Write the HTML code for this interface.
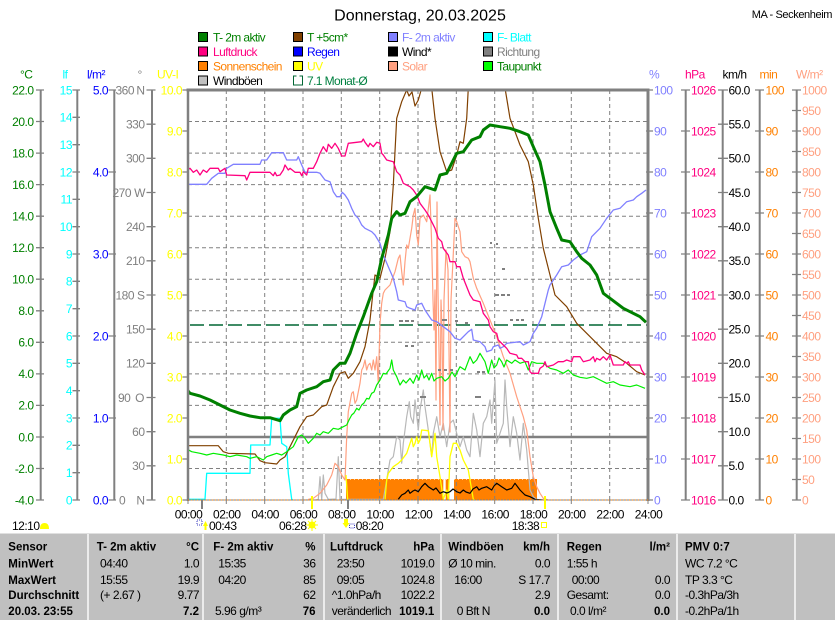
<!DOCTYPE html>
<html><head><meta charset="utf-8"><style>
html,body{margin:0;padding:0;background:#fff;}
svg{display:block;font-family:"Liberation Sans",Arial,sans-serif;}
.a{font-size:12px;letter-spacing:-0.5px;}
.lg{font-size:12px;letter-spacing:-0.6px;}
.b{font-size:11.5px;font-weight:bold;}
.n{font-size:12px;letter-spacing:-0.5px;}
</style></head><body>
<svg width="835" height="620" viewBox="0 0 835 620" xmlns="http://www.w3.org/2000/svg">
<rect width="835" height="620" fill="#fff"/>
<defs><clipPath id="pc"><rect x="188" y="90" width="460" height="410"/></clipPath></defs>

<!-- title -->
<text x="420" y="20.7" font-size="16" text-anchor="middle" fill="#000">Donnerstag, 20.03.2025</text>
<text x="832" y="18" font-size="11" letter-spacing="-0.4" text-anchor="end" fill="#000">MA - Seckenheim</text>

<!-- legend -->
<g stroke="#000" stroke-width="1">
<rect x="198.5" y="32.5" width="9" height="9" fill="#008000"/>
<rect x="293.5" y="32.5" width="9" height="9" fill="#804000"/>
<rect x="388.5" y="32.5" width="9" height="9" fill="#8080ff"/>
<rect x="483.5" y="32.5" width="9" height="9" fill="#00ffff"/>
<rect x="198.5" y="47" width="9" height="9" fill="#ff0080"/>
<rect x="293.5" y="47" width="9" height="9" fill="#0000ff"/>
<rect x="388.5" y="47" width="9" height="9" fill="#000000"/>
<rect x="483.5" y="47" width="9" height="9" fill="#808080"/>
<rect x="198.5" y="61.5" width="9" height="9" fill="#ff8000"/>
<rect x="293.5" y="61.5" width="9" height="9" fill="#ffff00"/>
<rect x="388.5" y="61.5" width="9" height="9" fill="#ffa080"/>
<rect x="483.5" y="61.5" width="9" height="9" fill="#00ff00"/>
<rect x="198.5" y="76" width="9" height="9" fill="#c0c0c0"/>
</g>
<path d="M296.5,76 h-3 v9 h9 v-9 h-3" fill="none" stroke="#006633" stroke-width="1"/>
<g class="lg">
<text x="213" y="41.3" fill="#008000">T- 2m aktiv</text>
<text x="307" y="41.3" fill="#008000">T +5cm*</text>
<text x="402" y="41.3" fill="#8080ff">F- 2m aktiv</text>
<text x="497" y="41.3" fill="#00ffff">F- Blatt</text>
<text x="213" y="55.8" fill="#ff0080">Luftdruck</text>
<text x="307" y="55.8" fill="#0000ff">Regen</text>
<text x="402" y="55.8" fill="#000">Wind*</text>
<text x="497" y="55.8" fill="#808080">Richtung</text>
<text x="213" y="70.3" fill="#ff8000">Sonnenschein</text>
<text x="307" y="70.3" fill="#ffff00">UV</text>
<text x="402" y="70.3" fill="#ffa080">Solar</text>
<text x="497" y="70.3" fill="#008000">Taupunkt</text>
<text x="213" y="84.8" fill="#000">Windböen</text>
<text x="307" y="84.8" fill="#008040">7.1 Monat-Ø</text>
</g>

<!-- axis headings -->
<g class="a">
<text x="20" y="78.5" fill="#008000">°C</text>
<text x="62.5" y="78.5" fill="#00ffff">lf</text>
<text x="87" y="78.5" fill="#0000ff">l/m²</text>
<text x="137.5" y="78.5" fill="#808080">°</text>
<text x="157" y="78.5" fill="#ffff00">UV-I</text>
<text x="649" y="78.5" fill="#8080ff">%</text>
<text x="685" y="78.5" fill="#ff0080">hPa</text>
<text x="722.5" y="78.5" fill="#000">km/h</text>
<text x="759.5" y="78.5" fill="#ff8000">min</text>
<text x="796" y="78.5" fill="#ffa080">W/m²</text>
</g>

<!-- axis lines -->
<g stroke="#808080" stroke-width="2" fill="none">
<path d="M40.7,90V500 M77.3,90V500 M114.3,90V500 M152,90V500 M685.7,90V500 M722.7,90V500 M759.7,90V500 M796.7,90V500"/>
<path stroke-width="1.3" d="M36,90h8M36,121.5h8M36,153.1h8M36,184.6h8M36,216.2h8M36,247.7h8M36,279.2h8M36,310.8h8M36,342.3h8M36,373.9h8M36,405.4h8M36,437h8M36,468.5h8M36,500h8
M72.5,90h7.5M72.5,117.3h7.5M72.5,144.7h7.5M72.5,172h7.5M72.5,199.3h7.5M72.5,226.7h7.5M72.5,254h7.5M72.5,281.3h7.5M72.5,308.7h7.5M72.5,336h7.5M72.5,363.3h7.5M72.5,390.7h7.5M72.5,418h7.5M72.5,445.3h7.5M72.5,472.7h7.5M72.5,500h7.5
M108.5,90h7.5M108.5,172h7.5M108.5,254h7.5M108.5,336h7.5M108.5,418h7.5M108.5,500h7.5
M146.5,90h9M146.5,124.2h9M146.5,158.3h9M146.5,192.5h9M146.5,226.7h9M146.5,260.8h9M146.5,295h9M146.5,329.2h9M146.5,363.3h9M146.5,397.5h9M146.5,431.7h9M146.5,465.8h9M146.5,500h9
M182.5,90h6M182.5,131h6M182.5,172h6M182.5,213h6M182.5,254h6M182.5,295h6M182.5,336h6M182.5,377h6M182.5,418h6M182.5,459h6M182.5,500h6
M646,90h7M646,131h7M646,172h7M646,213h7M646,254h7M646,295h7M646,336h7M646,377h7M646,418h7M646,459h7M646,500h7
M681,90h9M681,131h9M681,172h9M681,213h9M681,254h9M681,295h9M681,336h9M681,377h9M681,418h9M681,459h9M681,500h9
M718,90h10M718,124.2h10M718,158.3h10M718,192.5h10M718,226.7h10M718,260.8h10M718,295h10M718,329.2h10M718,363.3h10M718,397.5h10M718,431.7h10M718,465.8h10M718,500h10
M755,90h9M755,131h9M755,172h9M755,213h9M755,254h9M755,295h9M755,336h9M755,377h9M755,418h9M755,459h9M755,500h9
M792,90h9M792,110.5h9M792,131h9M792,151.5h9M792,172h9M792,192.5h9M792,213h9M792,233.5h9M792,254h9M792,274.5h9M792,295h9M792,315.5h9M792,336h9M792,356.5h9M792,377h9M792,397.5h9M792,418h9M792,438.5h9M792,459h9M792,479.5h9M792,500h9"/>
</g>

<!-- left labels -->
<g class="a" text-anchor="end" fill="#008000">
<text x="33.5" y="94.3">22.0</text><text x="33.5" y="125.8">20.0</text><text x="33.5" y="157.4">18.0</text><text x="33.5" y="188.9">16.0</text><text x="33.5" y="220.5">14.0</text><text x="33.5" y="252">12.0</text><text x="33.5" y="283.5">10.0</text><text x="33.5" y="315.1">8.0</text><text x="33.5" y="346.6">6.0</text><text x="33.5" y="378.2">4.0</text><text x="33.5" y="409.7">2.0</text><text x="33.5" y="441.3">0.0</text><text x="33.5" y="472.8">-2.0</text><text x="33.5" y="504.3">-4.0</text>
</g>
<g class="a" text-anchor="end" fill="#00ffff">
<text x="72" y="94.3">15</text><text x="72" y="121.6">14</text><text x="72" y="149">13</text><text x="72" y="176.3">12</text><text x="72" y="203.6">11</text><text x="72" y="231">10</text><text x="72" y="258.3">9</text><text x="72" y="285.6">8</text><text x="72" y="313">7</text><text x="72" y="340.3">6</text><text x="72" y="367.6">5</text><text x="72" y="395">4</text><text x="72" y="422.3">3</text><text x="72" y="449.6">2</text><text x="72" y="477">1</text><text x="72" y="504.3">0</text>
</g>
<g class="a" text-anchor="end" fill="#0000ff">
<text x="108" y="94.3">5.0</text><text x="108" y="176.3">4.0</text><text x="108" y="258.3">3.0</text><text x="108" y="340.3">2.0</text><text x="108" y="422.3">1.0</text><text x="108" y="504.3">0.0</text>
</g>
<g class="a" fill="#808080">
<text x="115.5" y="94.3">360</text><text x="144.5" y="94.3" text-anchor="end">N</text>
<text x="144.5" y="128.5" text-anchor="end">330</text>
<text x="144.5" y="162.6" text-anchor="end">300</text>
<text x="112.5" y="196.8">270</text><text x="145" y="196.8" text-anchor="end">W</text>
<text x="144.5" y="231" text-anchor="end">240</text>
<text x="144.5" y="265.1" text-anchor="end">210</text>
<text x="115.5" y="299.3">180</text><text x="144.5" y="299.3" text-anchor="end">S</text>
<text x="144.5" y="333.5" text-anchor="end">150</text>
<text x="144.5" y="367.6" text-anchor="end">120</text>
<text x="118" y="401.8">90</text><text x="144" y="401.8" text-anchor="end">O</text>
<text x="144.5" y="436" text-anchor="end">60</text>
<text x="144.5" y="470.1" text-anchor="end">30</text>
<text x="119" y="504.3">0</text><text x="144.5" y="504.3" text-anchor="end">N</text>
</g>
<g class="a" text-anchor="end" fill="#ffff00">
<text x="182" y="94.3">10.0</text><text x="182" y="135.3">9.0</text><text x="182" y="176.3">8.0</text><text x="182" y="217.3">7.0</text><text x="182" y="258.3">6.0</text><text x="182" y="299.3">5.0</text><text x="182" y="340.3">4.0</text><text x="182" y="381.3">3.0</text><text x="182" y="422.3">2.0</text><text x="182" y="463.3">1.0</text><text x="182" y="504.3">0.0</text>
</g>

<!-- right labels -->
<g class="a" fill="#8080ff">
<text x="654" y="94.3">100</text><text x="654" y="135.3">90</text><text x="654" y="176.3">80</text><text x="654" y="217.3">70</text><text x="654" y="258.3">60</text><text x="654" y="299.3">50</text><text x="654" y="340.3">40</text><text x="654" y="381.3">30</text><text x="654" y="422.3">20</text><text x="654" y="463.3">10</text><text x="654" y="504.3">0</text>
</g>
<g class="a" fill="#ff0080">
<text x="691" y="94.3">1026</text><text x="691" y="135.3">1025</text><text x="691" y="176.3">1024</text><text x="691" y="217.3">1023</text><text x="691" y="258.3">1022</text><text x="691" y="299.3">1021</text><text x="691" y="340.3">1020</text><text x="691" y="381.3">1019</text><text x="691" y="422.3">1018</text><text x="691" y="463.3">1017</text><text x="691" y="504.3">1016</text>
</g>
<g class="a" fill="#000">
<text x="728.5" y="94.3">60.0</text><text x="728.5" y="128.5">55.0</text><text x="728.5" y="162.6">50.0</text><text x="728.5" y="196.8">45.0</text><text x="728.5" y="231">40.0</text><text x="728.5" y="265.1">35.0</text><text x="728.5" y="299.3">30.0</text><text x="728.5" y="333.5">25.0</text><text x="728.5" y="367.6">20.0</text><text x="728.5" y="401.8">15.0</text><text x="728.5" y="436">10.0</text><text x="728.5" y="470.1">5.0</text><text x="728.5" y="504.3">0.0</text>
</g>
<g class="a" fill="#ff8000">
<text x="765.5" y="94.3">100</text><text x="765.5" y="135.3">90</text><text x="765.5" y="176.3">80</text><text x="765.5" y="217.3">70</text><text x="765.5" y="258.3">60</text><text x="765.5" y="299.3">50</text><text x="765.5" y="340.3">40</text><text x="765.5" y="381.3">30</text><text x="765.5" y="422.3">20</text><text x="765.5" y="463.3">10</text><text x="765.5" y="504.3">0</text>
</g>
<g class="a" fill="#ffa080">
<text x="802" y="94.3">1000</text><text x="802" y="114.8">950</text><text x="802" y="135.3">900</text><text x="802" y="155.8">850</text><text x="802" y="176.3">800</text><text x="802" y="196.8">750</text><text x="802" y="217.3">700</text><text x="802" y="237.8">650</text><text x="802" y="258.3">600</text><text x="802" y="278.8">550</text><text x="802" y="299.3">500</text><text x="802" y="319.8">450</text><text x="802" y="340.3">400</text><text x="802" y="360.8">350</text><text x="802" y="381.3">300</text><text x="802" y="401.8">250</text><text x="802" y="422.3">200</text><text x="802" y="442.8">150</text><text x="802" y="463.3">100</text><text x="802" y="483.8">50</text><text x="802" y="504.3">0</text>
</g>

<!-- plot -->
<g clip-path="url(#pc)">
<path d="M346,479H443.3V500H346Z M445.7,479H449.3V500H445.7Z M454,479H537V500H454Z" fill="#ff8000"/>
<path d="M346,479.5H537" stroke="#fff" stroke-width="1" stroke-dasharray="1,3" opacity="0.6"/>
<g stroke="#808080" stroke-width="1" stroke-dasharray="4,3" fill="none">
<path d="M226.3,90V500M264.7,90V500M303,90V500M341.3,90V500M379.7,90V500M418,90V500M456.3,90V500M494.7,90V500M533,90V500M571.3,90V500M609.7,90V500"/>
<path d="M188,121.5H648M188,153.1H648M188,184.6H648M188,216.2H648M188,247.7H648M188,279.2H648M188,310.8H648M188,342.3H648M188,373.9H648M188,405.4H648M188,468.5H648"/>
</g>
<path d="M188,437H648" stroke="#808080" stroke-width="2.5"/>
<path d="M190,325H648" stroke="#006633" stroke-width="1.6" stroke-dasharray="14,5"/>
<g fill="none" stroke-linejoin="round">
<polyline stroke="#b8b8b8" stroke-width="1.2" points="300,500 316,500 318.3,499.3 320,476.7 321.7,499.3 323.3,475 325,493.3 328.3,499.3 336,499 338.3,456.7 340,499.3 382,499.3 383.3,499.3 386.7,480 390,460 393.3,456.7 396.7,436.7 400,440 401.7,463.3 403.3,443.3 406.7,416.7 409.3,401.7 410.7,416.7 413.3,423.3 415,400 418.3,430 420,410 423.3,390 425,406.7 428.3,430 431.7,456.7 433.3,433.3 436.7,416.7 440,436.7 443.3,423.3 446.7,446.7 450,423.3 453.3,420 456.7,433.3 460,446.7 463.3,436.7 466.7,450 470,456.7 473.3,413.3 476.7,430 480,456.7 483.3,423.3 486.7,416.7 490,400 491.7,423.3 495,380 496.7,443.3 500,433.3 503.3,423.3 505,380 506.7,406.7 510,446.7 513.3,416.7 516.7,433.3 520,460 523.3,423.3 526.7,450 530,490 533.3,496.7 536.7,499.3"/>
<polyline stroke="#ffa080" stroke-width="1.2" points="308.3,499.3 313.3,498.3 320,493.3 326.7,485 331.7,475 335,463.3 338.3,466.7 341.7,475 345,480 346.7,436.7 348.3,411.7 351.7,393.3 353.3,391.7 355,403.3 356.7,400 360,383.3 361.7,370 363.3,366.7 365,360 366.7,370 368.3,365 370,363.3 371.7,370 373.3,360 375,370 376.7,356.7 378.3,383.3 380,323.3 381.7,303.3 383.3,293.3 385,290 390,285 395,271.7 398.3,258.3 400,255 401.7,271.7 403.3,285 405,261.7 406.7,245 408.3,248.3 410,238.3 411.7,228.3 413.3,215 415,208.3 416.7,235 418.3,245 420,218.3 423.3,215 426.7,221.7 430,195 431.7,245 433,300 434,330 435,290 436,400 437,202 438,290 439,350 440,425 441,300 442,330 443,430 444,300 446,250 448,270 449,350 450,432 451,300 453,260 455,218.3 456.7,221.7 460,231.7 461.7,251.7 465,256.7 468.3,258.3 470,261.7 473.3,278.3 476.7,288.3 483.3,303.3 490,320 496.7,336.7 503.3,356.7 510,373.3 516.7,396.7 523.3,416.7 526.7,430 530,456.7 533.3,476.7 536.7,486.7 540,493.3 543.3,498.3 548,500"/>
<polyline stroke="#ffff00" stroke-width="1.3" points="346,475 347.7,500"/>
<polyline stroke="#ffff00" stroke-width="1.3" points="385,500 386.7,480 388.3,473.3 393.3,466.7 398.3,463.3 401.7,460 406.7,453.3 411.7,438.3 413.3,446.7 415,443.3 416.7,436.7 418.3,443.3 420,440 421.7,430 428.3,430.7 430,443.3 431.7,456.7 435,433.3 436.7,456.7 440,476.7 443.3,499.3 446.7,490 448.3,499.3 450,456.7 453.3,443.3 456.7,443.3 460,450 463.3,460 466.7,466.7 468.3,470 471.7,490 473.3,499.3 475,500"/>
<polyline stroke="#00ffff" stroke-width="1.3" points="187.3,499.3 205,499.3 206.7,473.3 250,473.3 250.7,445 270,445 271.7,418.3 280,418.3 281.7,443.3 286.7,446.7 288.3,473.3 291.7,499.3 292.7,500"/>
<polyline stroke="#804000" stroke-width="1.2" points="187.3,445.7 218.3,445.7 223.3,451.7 228.3,453.3 255,454 260,460.7 265,462.7 276.7,464 280,460 285,456.7 290,446.7 295,436.7 300,426.7 306.7,416.7 313.3,415 316.7,411.7 321.7,406.7 326.7,405 333.3,386.7 340,373.3 345,371.7 348.3,378.3 353.3,373.3 360,361.7 365,346.7 370,320 372.7,295 375,275 380,278.3 385,258.3 390,231.7 393.3,185 396.7,118.3 401.7,101.7 406.7,90 409,96 412,92 415,106 418.3,100 421.7,88 424,60 430,60 431.7,88 435,118.3 440,151.7 446.7,171.7 451.7,170 456.7,155 460,141.7 463.3,143.3 466.7,118.3 468.3,88 470,60 503,60 505,88 510,118.3 520,145 528.3,161.7 533.3,185 538.3,218.3 543.3,248.3 550,275 555,295 566.7,306.7 576.7,323.3 586.7,333.3 596.7,343.3 606.7,353.3 616.7,356.7 626.7,363.3 636.7,371.7 645,375"/>
<polyline stroke="#00ee00" stroke-width="1.2" points="187.3,449.3 191.7,451.7 200,453.3 206.7,455 213.3,453.3 223.3,455 230,456.7 236.7,455 246.7,456.7 250,458.3 256.7,456.7 263.3,460 266.7,456.7 271.7,455 276.7,453.3 281.7,455 286.7,451.7 293.3,446.7 298.3,436.7 301.7,435 305,438.3 308.3,443.3 313.3,438.3 316.7,433.3 320,435 323.3,431.7 328.3,433.3 333.3,428.3 338.3,429.3 343.3,426.7 346.7,425 349,420 351.7,415 354,413 356.7,408.3 359,410 361.7,405 364,403 366.7,398.3 369,399 371.7,393.3 374,392 376.7,385 380,380 383.3,373.3 386,374 390,368.3 391.7,360 393.3,370 396.7,376.7 400,385 403.3,380 406,383 410,378.3 413.3,383.3 416.7,375 419,380 421.7,370 424,378 426.7,375 429,380 431.7,373.3 434,381 436.7,378.3 441.7,376.7 445,381 448.3,378.3 452,372 455,376.7 460,366.7 465,370 470,356.7 473.3,363.3 476.7,360 480,353.3 485,361.7 488.3,373.3 491.7,360 494,368 496.7,365 499,358 501.7,361.7 504,367 506.7,360 511.7,363.3 515,360 520,363.3 525,361.7 528.3,370 531.7,361.7 536.7,363.3 543.3,363.3 550,368.3 556.7,370 563.3,373.3 568.3,370 573.3,375 580,377.3 586.7,378.3 593.3,376.7 600,380 606.7,383.3 613.3,381.7 620,385 630,386.7 636.7,385 645,388.3"/>
<polyline stroke="#8080ff" stroke-width="1.3" points="187.3,188.3 188.3,184.3 206.7,184.3 211.7,178.3 218.3,173.3 225,173.3 226.7,168.3 233.3,164.3 260,164.3 261.7,160 266.7,160 271.7,152.7 283.3,152.7 286.7,160 296.7,160 298.3,156.7 301.7,165 305,172.3 316.7,172.3 320,173.3 325,180 330,181.7 333.3,191.7 336.7,196.7 340,196.7 342.3,192.3 345,195 348.3,200 351.7,208.3 355,215 358.3,218.3 361.7,225 365,228.3 371.7,231.7 375,235 380,243.3 383.3,255 388.3,266.7 393.3,278.3 396.7,291.7 398.3,300 405,301.7 406.7,306.7 410,308.3 415,310 416.7,305 421.7,303.3 425,310 428.3,315 431.7,320 436.7,321.7 443.3,326.7 450,331.7 455,338.3 460,340 468.3,331.7 471.7,329.3 473.3,340 480,341.7 485,346.7 486.7,351.7 491.7,350 493.3,346.7 498.3,345 500,348.3 503.3,346.7 506.7,343.3 520,341.7 523.3,345 526.7,343.3 530,341.7 533.3,333.3 536.7,328.3 541.7,316.7 545,303.3 548.3,290 550,285 556.7,275 561.7,266.7 568.3,265 573.3,260 580,255 586.7,251.7 591.7,236.7 600,228.3 606.7,218.3 613.3,210 620,208.3 626.7,201.7 633.3,200 636.7,196.7 641.7,193.3 646,190"/>
<polyline stroke="#ff0080" stroke-width="1.3" points="187.3,170 190,168.3 193.3,172.3 196.7,170 200,175 203.3,170 206.7,172.3 210,168.3 218.3,168.3 220,171.7 225,168.3 226.7,175 245,175.7 246.7,180 250,172.3 270,172.3 273.3,175.7 275,172.3 276.7,175.7 280,175 283.3,170 285,165 288.3,170 290,168.3 295,172.3 300,172.3 301.7,175.7 303.3,171.7 306.7,175 308.3,168.3 313.3,168.3 316.7,161.7 320,153.3 323.3,146.7 326.7,151.7 328.3,144.3 331.7,148.3 335,143.3 338.3,148.3 341.7,156 345,156 348.3,143.3 361.7,141.7 363.3,139 365,142.3 368.3,146.7 370,143.3 373.3,146.7 376.7,142.3 380,143.3 381.7,153.3 383.3,155 386.7,160 393.3,161.7 396.7,171.7 400,175 403.3,183.3 410,186.7 413.3,190 416.7,195 420,203.3 425,210 428.3,215 431.7,221.7 435,228.3 438.3,238.3 441.7,241.7 443.3,248.3 448.3,255 450,261.7 455,261.7 456.7,266.7 460,266.7 463.3,278.3 466.7,286.7 470,295 473.3,300 480,301.7 483.3,313.3 488.3,320 490,326.7 493.3,331.7 496.7,333.3 498.3,340 503.3,345 506.7,348.3 510,353.3 516.7,355 518.3,358.3 521.7,358.3 525,361.7 528.3,361.7 530,371.7 531.7,373.3 538.3,373.3 540,368.3 543.3,366 545,361.7 546.7,366.7 553.3,365 558.3,361.7 563.3,361.7 566.7,360 571.7,361.7 573.3,356.7 580,356.7 583.3,361.7 590,360 593.3,356.7 595,361.7 596.7,358.3 600,360 603.3,356.7 606.7,360 610,355 613.3,365 623.3,365 625,361.7 626.7,363.3 628.3,361.7 630,365 640,365 641.7,370 645,375"/>
<polyline stroke="#008000" stroke-width="3" points="187.3,390 190,393.3 200,396 210,400 220,405 230,410 240,413.3 250,416 260,417.7 270,417.7 280,420.7 283.3,415 290,410 296.7,406.7 300,393.3 306.7,390 316.7,386.7 323.3,381.7 330,380 333.3,370 340,363.3 345,363.3 350,353.3 356.7,333.3 363.3,316.7 371.7,293.3 376.7,281.7 381.7,258.3 388.3,235 391.7,218.3 396.7,211.7 400,215 405,213.3 410,201.7 416.7,196.7 425,186.7 435,190 440,175 446.7,173.3 453.3,160 456.7,153.3 463.3,151.7 471.7,140 480,136.7 483.3,130 490,125 500,126.7 510,128.3 520,131.7 528.3,135 533.3,146.7 540,161.7 545,185 550,211.7 556.7,228.3 561.7,240 570,241.7 576.7,251.7 581.7,258.3 590,265 596.7,275 603.3,293.3 610,298.3 623.3,308.3 630,311.7 640,316.7 646,322.3"/>
<polyline stroke="#000" stroke-width="1.2" points="398.3,499.3 401.7,495 405,493.3 408.3,490 410,493.3 413,491 415,490 418.3,491.7 421.7,486.7 425,483.3 428.3,486.7 433.3,490 436,488 440,493.3 443.3,491.7 447,493 450,491.7 453,489 456.7,491.7 460,493 463.3,490 466,492 470,493.3 473,489 476.7,486.7 479,490 481.7,488.3 486.7,486.7 491.7,490 494,486 496.7,483.3 501.7,486.7 506.7,490 511.7,488.3 515,483.3 520,490 525,495 530,496.7 535,499.3 543.3,500"/>
</g>
<g fill="#808080">
<rect x="399" y="320" width="4" height="2"/><rect x="405" y="320" width="4" height="2"/><rect x="411" y="320" width="3" height="2"/>
<rect x="411" y="345" width="3" height="2"/><rect x="405" y="345" width="3" height="2"/>
<rect x="420" y="396" width="6" height="2"/><rect x="475" y="396" width="6" height="2"/>
<rect x="477" y="371" width="3" height="2"/><rect x="482" y="371" width="3" height="2"/>
<rect x="438" y="369" width="3" height="2"/><rect x="444" y="369" width="3" height="2"/><rect x="450" y="369" width="3" height="2"/>
<rect x="442" y="319" width="5" height="2"/>
<rect x="495" y="294" width="4" height="2"/><rect x="501" y="294" width="4" height="2"/><rect x="507" y="294" width="3" height="2"/>
<rect x="510" y="319" width="3" height="2"/><rect x="516" y="319" width="3" height="2"/><rect x="521" y="319" width="3" height="2"/>
<rect x="490" y="242" width="2" height="2"/><rect x="496" y="243" width="2" height="2"/><rect x="502" y="268" width="3" height="2"/>
<rect x="455" y="320" width="3" height="2"/><rect x="465" y="322" width="3" height="2"/>
</g>
</g>

<!-- frame -->
<g stroke="#808080" fill="none">
<path d="M186.5,90H649.5" stroke-width="3"/>
<path d="M188,89V501" stroke-width="2.5"/>
<path d="M648,89V501" stroke-width="3"/>
<path d="M188,500H648" stroke-width="1"/>
<path d="M226.3,500v4M264.7,500v4M303,500v4M341.3,500v4M379.7,500v4M418,500v4M456.3,500v4M494.7,500v4M533,500v4M571.3,500v4M609.7,500v4M188,500v4M648,500v4" stroke-width="1"/>
</g>
<path d="M188,500H648" stroke="#ff8000" stroke-width="1" stroke-dasharray="1,2"/>
<rect x="201" y="500" width="2" height="9" fill="#808080"/>
<rect x="347" y="500" width="2" height="9" fill="#808080"/>
<rect x="311" y="496" width="2" height="13" fill="#ffff00"/>
<rect x="544" y="496" width="2" height="13" fill="#ffff00"/>

<!-- time labels -->
<g class="a" text-anchor="middle" fill="#000">
<text x="188.5" y="518.3">00:00</text><text x="226.8" y="518.3">02:00</text><text x="265.2" y="518.3">04:00</text><text x="303.5" y="518.3">06:00</text><text x="341.8" y="518.3">08:00</text><text x="380.2" y="518.3">10:00</text><text x="418.5" y="518.3">12:00</text><text x="456.8" y="518.3">14:00</text><text x="495.2" y="518.3">16:00</text><text x="533.5" y="518.3">18:00</text><text x="571.8" y="518.3">20:00</text><text x="610.2" y="518.3">22:00</text><text x="648.5" y="518.3">24:00</text>
</g>
<g class="a" fill="#000">
<text x="12" y="530">12:10</text>
<text x="209" y="530">00:43</text>
<text x="279" y="530">06:28</text>
<text x="355.7" y="530">08:20</text>
<text x="511.7" y="530">18:38</text>
</g>
<path d="M40,529 q0,-6 4.5,-6 q4.5,0 4.5,6 z" fill="#ffff00"/>
<rect x="197" y="520" width="5" height="5" fill="none" stroke="#4040c0" stroke-width="1" stroke-dasharray="1,1"/>
<path d="M203,526 l2.5,-5 l2.5,5 h-1.5 v4 h-2 v-4z" fill="#ffff00"/>
<circle cx="312" cy="525" r="3.5" fill="#ffff00"/>
<path d="M312,519v12M306,525h12M308,521l8,8M316,521l-8,8" stroke="#ffff00" stroke-width="1"/>
<path d="M344,519 h4 v4 h1.5 l-3.5,5 l-3.5,-5 h1.5z" fill="#ffff00"/>
<rect x="349.5" y="524" width="5" height="4" fill="none" stroke="#4040c0" stroke-width="1" stroke-dasharray="1,1"/>
<rect x="541.5" y="522.5" width="5" height="5" fill="none" stroke="#ffff00" stroke-width="1"/>

<!-- table -->
<rect x="0" y="533" width="835" height="87" fill="#c0c0c0"/>
<path d="M0,533.5H835" stroke="#e0e0e0" stroke-width="1"/>
<g stroke="#ececec" stroke-width="2">
<path d="M88,534V620M203,534V620M324,534V620M441,534V620M558,534V620M677,534V620M795,534V620"/>
</g>
<g class="b" fill="#000">
<text x="8.3" y="550.7">Sensor</text>
<text x="8.3" y="567.3">MinWert</text>
<text x="8.3" y="584">MaxWert</text>
<text x="8.3" y="599">Durchschnitt</text>
<text x="8.3" y="615">20.03. 23:55</text>
<text x="96.7" y="550.7">T- 2m aktiv</text>
<text x="199" y="550.7" text-anchor="end">°C</text>
<text x="199" y="615" text-anchor="end">7.2</text>
<text x="213.3" y="550.7">F- 2m aktiv</text>
<text x="315.5" y="550.7" text-anchor="end">%</text>
<text x="315.5" y="615" text-anchor="end">76</text>
<text x="330" y="550.7">Luftdruck</text>
<text x="434.3" y="550.7" text-anchor="end">hPa</text>
<text x="434.3" y="615" text-anchor="end">1019.1</text>
<text x="448.3" y="550.7">Windböen</text>
<text x="550" y="550.7" text-anchor="end">km/h</text>
<text x="550" y="615" text-anchor="end">0.0</text>
<text x="566.7" y="550.7">Regen</text>
<text x="670" y="550.7" text-anchor="end">l/m²</text>
<text x="670" y="615" text-anchor="end">0.0</text>
<text x="685" y="550.7">PMV 0:7</text>
</g>
<g class="n" fill="#000">
<text x="100" y="567.3">04:40</text><text x="199" y="567.3" text-anchor="end">1.0</text>
<text x="100" y="584">15:55</text><text x="199" y="584" text-anchor="end">19.9</text>
<text x="100" y="599">(+ 2.67 )</text><text x="199" y="599" text-anchor="end">9.77</text>
<text x="218.3" y="567.3">15:35</text><text x="315.5" y="567.3" text-anchor="end">36</text>
<text x="218.3" y="584">04:20</text><text x="315.5" y="584" text-anchor="end">85</text>
<text x="315.5" y="599" text-anchor="end">62</text>
<text x="215" y="615">5.96 g/m³</text>
<text x="336.7" y="567.3">23:50</text><text x="434.3" y="567.3" text-anchor="end">1019.0</text>
<text x="336.7" y="584">09:05</text><text x="434.3" y="584" text-anchor="end">1024.8</text>
<text x="331.7" y="599">^1.0hPa/h</text><text x="434.3" y="599" text-anchor="end">1022.2</text>
<text x="331.7" y="615">veränderlich</text>
<text x="448.3" y="567.3">Ø 10 min.</text><text x="550" y="567.3" text-anchor="end">0.0</text>
<text x="454.3" y="584">16:00</text><text x="550" y="584" text-anchor="end">S 17.7</text>
<text x="550" y="599" text-anchor="end">2.9</text>
<text x="456.7" y="615">0 Bft N</text>
<text x="566.7" y="567.3">1:55 h</text>
<text x="571.7" y="584">00:00</text><text x="670" y="584" text-anchor="end">0.0</text>
<text x="566.7" y="599">Gesamt:</text><text x="670" y="599" text-anchor="end">0.0</text>
<text x="570" y="615">0.0 l/m²</text>
<text x="685" y="567.3">WC 7.2 °C</text>
<text x="685" y="584">TP 3.3 °C</text>
<text x="685" y="599">-0.3hPa/3h</text>
<text x="685" y="615">-0.2hPa/1h</text>
</g>
</svg>
</body></html>
